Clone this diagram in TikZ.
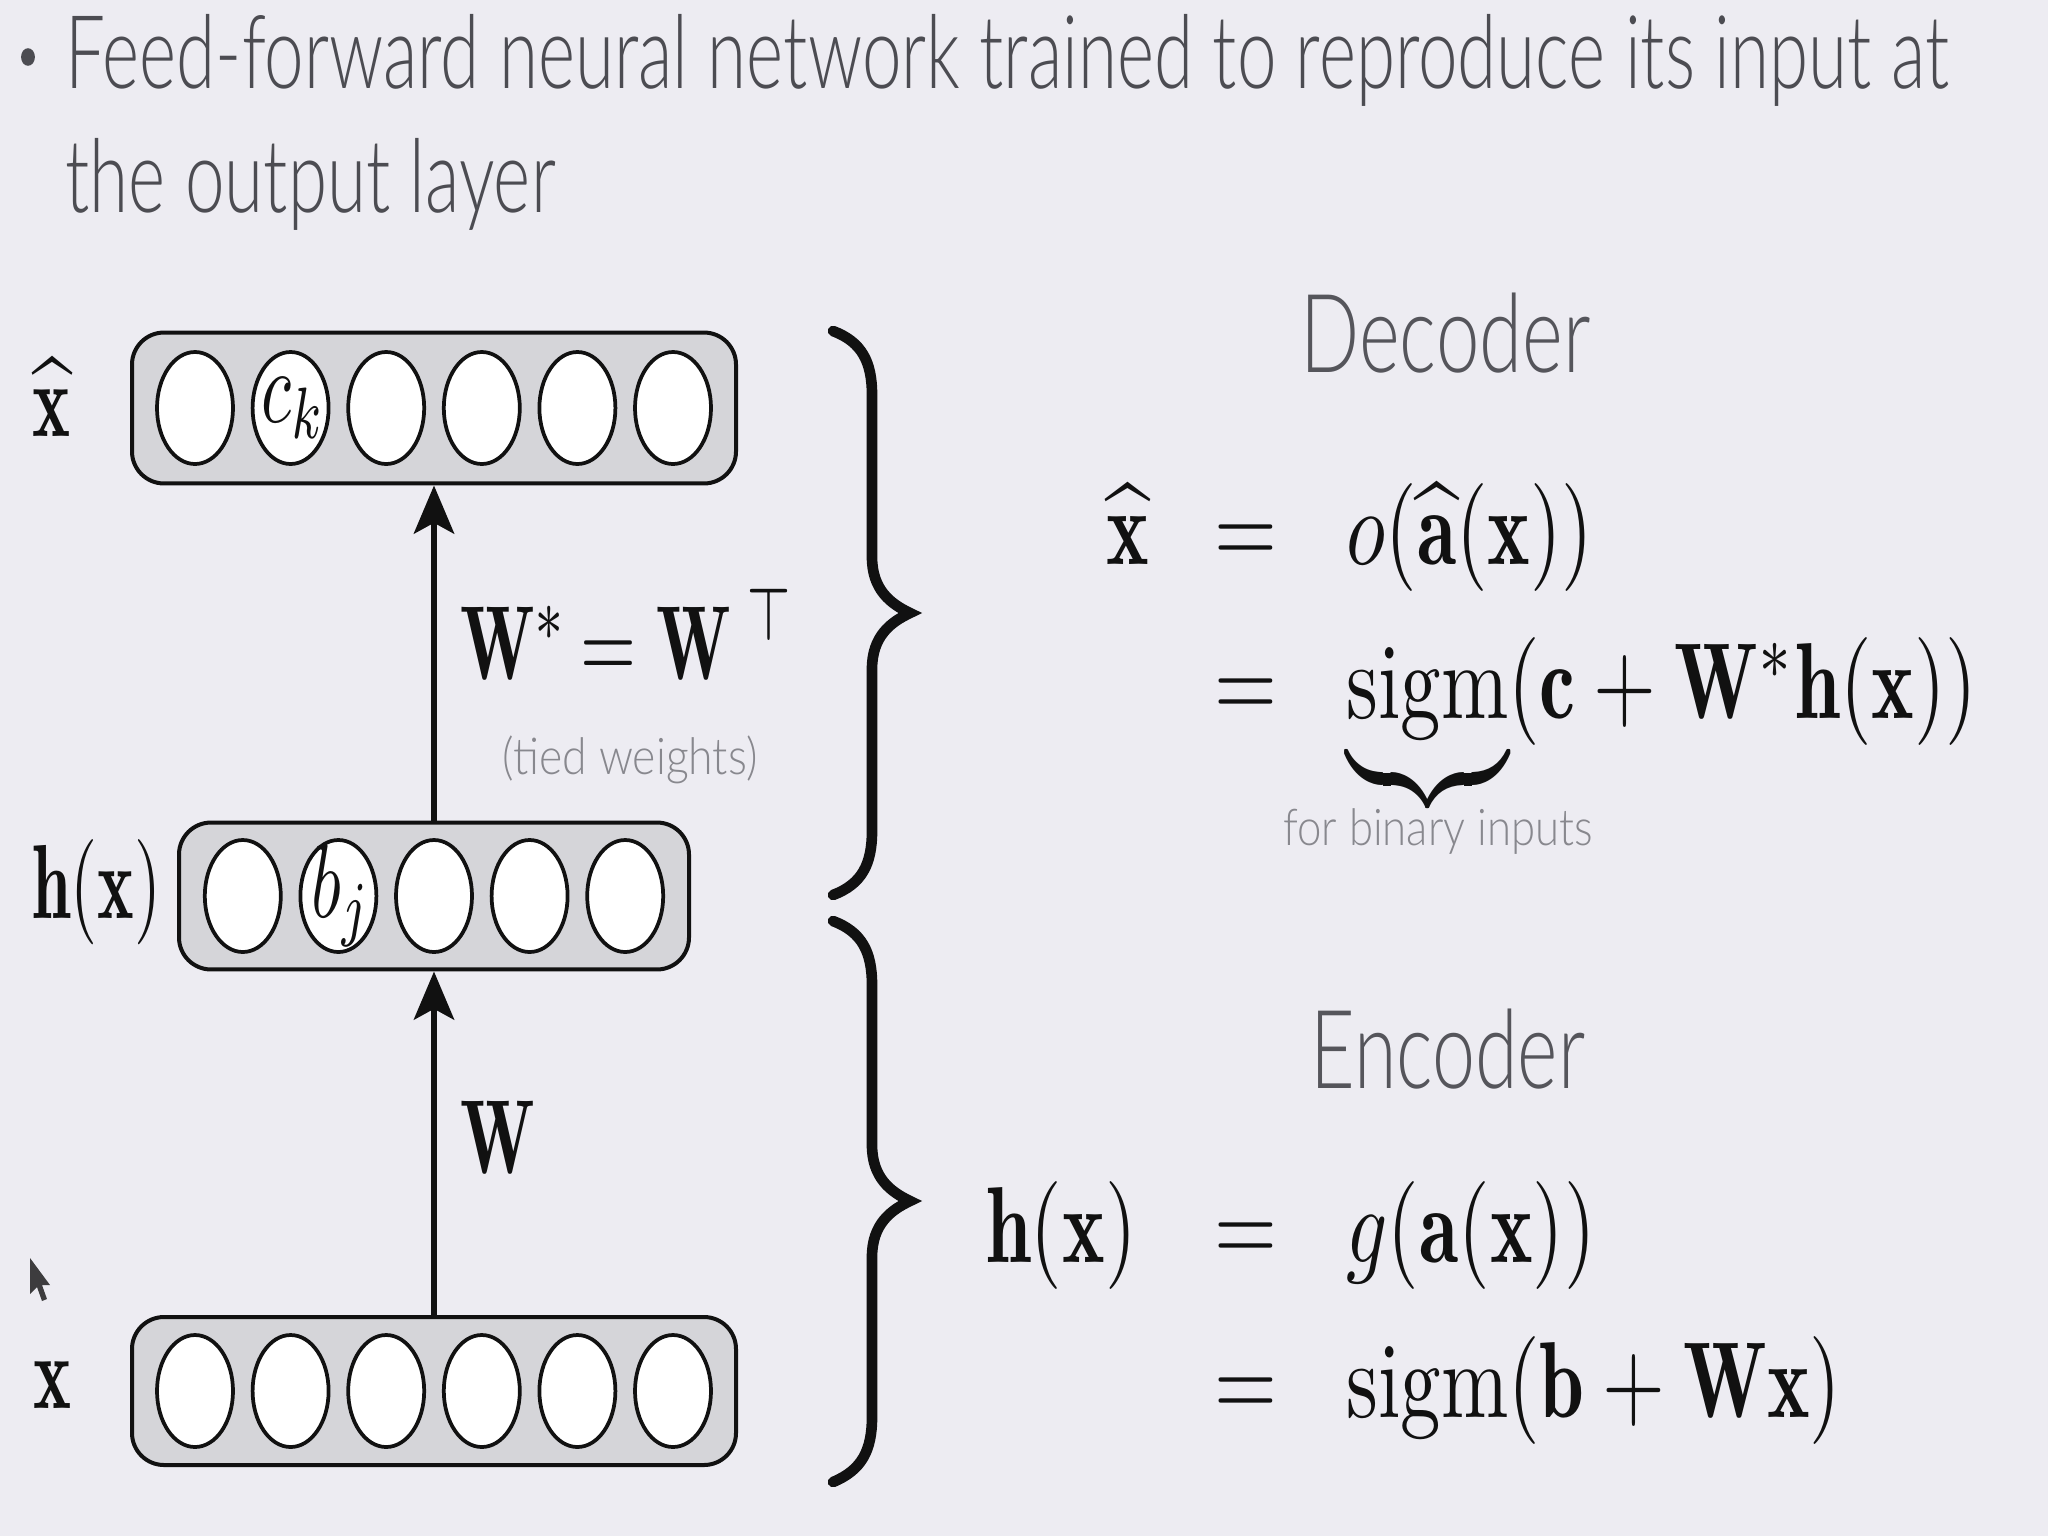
\documentclass[tikz,border=0pt]{standalone}
\usepackage{graphicx}
\usepackage{amsmath}
\usepackage{fontspec}
\newfontfamily\lato{Lato Light}
\usetikzlibrary{shapes.geometric,arrows.meta}
\definecolor{bgc}{HTML}{EDECF2}
\definecolor{boxc}{HTML}{D5D5D9}
\definecolor{titlec}{HTML}{4C4C52}
\definecolor{headc}{HTML}{55555B}
\definecolor{notec}{HTML}{88888E}
\definecolor{inkc}{HTML}{111111}
\newcommand{\eqm}[1]{\scalebox{3.03}[4.05]{$#1$}}
\newcommand{\dgm}[1]{\scalebox{2.7}[3.95]{$#1$}}
\newcommand{\cellm}[1]{\scalebox{2.6}[3.9]{$#1$}}
\tikzset{
  layerbox/.style={draw=inkc, line width=1.5pt, fill=boxc, rounded corners=12pt, inner sep=0pt},
  cell/.style={ellipse, draw=inkc, line width=1.4pt, fill=white, minimum width=28.5pt, minimum height=42pt, inner sep=0pt},
  arr/.style={draw=inkc, line width=2.6pt, -{Stealth[length=18pt,width=15pt,inset=4pt]}},
  brc/.style={draw=inkc, line width=4pt, line cap=round, line join=miter},
  lbl/.style={inner sep=0pt, text=inkc},
  txt/.style={inner sep=0pt},
}
\begin{document}
\begin{tikzpicture}[x=0.375pt, y=-0.375pt]
\fill[bgc] (0,0) rectangle (2048,1536);
\useasboundingbox (0,0) rectangle (2048,1536);

% title
\fill[titlec] (28,57) ellipse [x radius=2.6pt, y radius=3.3pt];
\node[txt, anchor=base west, text=titlec] (title) at (65,88)
  {\lato\fontsize{38.2}{46.5}\selectfont\resizebox{706pt}{\height}{\begin{tabular}[t]{@{}l@{}}Feed-forward neural network trained to reproduce its input at\\the output layer\end{tabular}}};

% layers
\node[layerbox, minimum width=226.5pt, minimum height=56.6pt] (top) at (434,408) {};
\node[layerbox, minimum width=191.25pt, minimum height=55.1pt] (hid) at (434,896) {};
\node[layerbox, minimum width=226.5pt, minimum height=55.5pt] (bot) at (434,1391) {};

\foreach \i in {1,...,6} \node[cell] (t\i) at ({434+(\i-3.5)*95.6},408) {};
\foreach \i in {1,...,5} \node[cell] (h\i) at ({434+(\i-3)*95.6},896) {};
\foreach \i in {1,...,6} \node[cell] (b\i) at ({434+(\i-3.5)*95.6},1391) {};
\node[lbl] (ck) at ([xshift=1pt]t2) {\cellm{c_k}};
\node[lbl] (bj) at ([xshift=1pt]h2) {\cellm{b_j}};

% arrows
\draw[arr] (hid.north) -- (top.south);
\draw[arr] (bot.north) -- (hid.south);

% diagram labels
\node[lbl, anchor=base] (lxh) at (52,436) {\dgm{\widehat{\mathbf{x}}}};
\node[lbl, anchor=base east] (lhx) at (162,918) {\scalebox{2.6}[3.95]{$\mathbf{h}(\mathbf{x})$}};
\node[lbl, anchor=base] (lx) at (53,1408) {\dgm{\mathbf{x}}};
\node[lbl, anchor=base west] (wt) at (460,679) {\dgm{\mathbf{W}^{*}\,{=}\;\mathbf{W}^{\;\top}}};
\node[txt, text=notec] (tw) at (630,760) {\lato\fontsize{19}{22}\selectfont\resizebox{95.6pt}{\height}{(tied weights)}};
\node[lbl, anchor=base west] (w) at (460,1173) {\dgm{\mathbf{W}}};

% braces
\draw[brc] (833,331) .. controls (862,342) and (872,362) .. (872,395) -- (872,557)
  .. controls (872,590) and (891,604) .. (910,613) .. controls (891,622) and (872,636) .. (872,669)
  -- (872,831) .. controls (872,864) and (862,884) .. (833,895);
\draw[brc] (833,921) .. controls (862,932) and (872,952) .. (872,985) -- (872,1145)
  .. controls (872,1178) and (891,1192) .. (910,1201) .. controls (891,1210) and (872,1224) .. (872,1257)
  -- (872,1417) .. controls (872,1450) and (862,1470) .. (833,1482);

% headings
\node[txt, anchor=base west, text=headc] (dec) at (1300,372) {\lato\fontsize{41}{48}\selectfont\resizebox{108.75pt}{\height}{Decoder}};
\node[txt, anchor=base west, text=headc] (enc) at (1310,1088) {\lato\fontsize{41}{48}\selectfont\resizebox{103pt}{\height}{Encoder}};

% decoder equations
\node[lbl, anchor=base east] (d1l) at (1150,564) {\eqm{\widehat{\mathbf{x}}}};
\node[lbl, anchor=base] (d1e) at (1246,564) {\eqm{=}};
\node[lbl, anchor=base west] (d1r) at (1346,564) {\eqm{o(\widehat{\mathbf{a}}(\mathbf{x}))}};
\node[lbl, anchor=base] (d2e) at (1246,718) {\eqm{=}};
\node[lbl, anchor=base west] (d2r) at (1346,718) {\eqm{\underbrace{\mathrm{sigm}}(\mathbf{c}+\mathbf{W}^{*}\mathbf{h}(\mathbf{x}))}};
\node[txt, anchor=base, text=notec] (fbi) at (1438,845) {\lato\fontsize{19}{22}\selectfont\resizebox{116pt}{\height}{for binary inputs}};

% encoder equations
\node[lbl, anchor=base east] (e1l) at (1137,1262) {\eqm{\mathbf{h}(\mathbf{x})}};
\node[lbl, anchor=base] (e1e) at (1246,1262) {\eqm{=}};
\node[lbl, anchor=base west] (e1r) at (1346,1262) {\eqm{g(\mathbf{a}(\mathbf{x}))}};
\node[lbl, anchor=base] (e2e) at (1246,1417) {\eqm{=}};
\node[lbl, anchor=base west] (e2r) at (1346,1417) {\eqm{\mathrm{sigm}(\mathbf{b}+\mathbf{W}\mathbf{x})}};

% mouse pointer
\fill[inkc, opacity=0.8] (30,1258) -- (30,1294) -- (37,1287) -- (42,1301) -- (47,1299) -- (42,1285) -- (50,1285) -- cycle;
\end{tikzpicture}
\end{document}
